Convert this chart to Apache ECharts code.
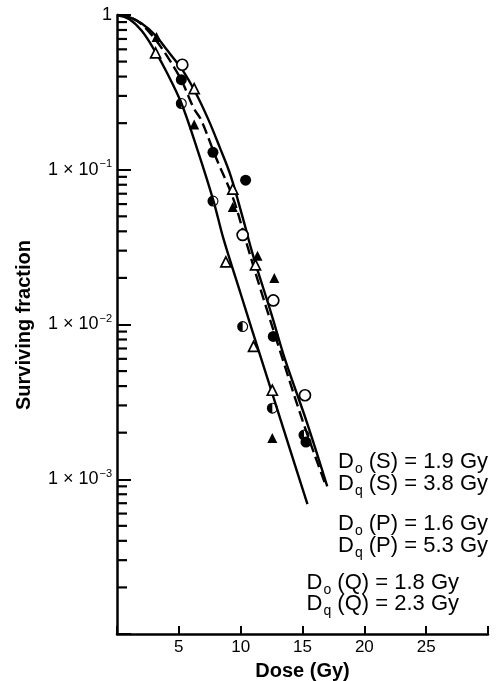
<!DOCTYPE html>
<html>
<head>
<meta charset="utf-8">
<script src="https://cdn.jsdelivr.net/npm/echarts@6/dist/echarts.min.js"></script>
<style>
  html, body { margin: 0; padding: 0; background: #fff; }
  #main { width: 501px; height: 681px; }
</style>
</head>
<body>
<div id="main"></div>
<script>
// fitted curves, [dose Gy, surviving fraction]
var curveS = [[0, 1], [1, 0.97], [2, 0.88], [3.1, 0.74], [4, 0.6], [5.3, 0.44], [6.4, 0.31], [7.4, 0.21],
  [8.3, 0.14], [9.2, 0.091], [10.2, 0.048], [11, 0.028], [12.5, 0.0116], [13.6, 0.0059], [15.3, 0.0024], [17, 0.0009]];
var curveP = [[0, 1], [1, 0.97], [2, 0.87], [3, 0.71], [4, 0.55], [5.2, 0.38], [6.2, 0.25], [6.8, 0.21],
  [8, 0.12], [9.4, 0.065], [10.5, 0.033], [11.5, 0.018], [13, 0.0075], [15, 0.0024], [16.8, 0.00095]];
var curveQ = [[0, 1], [1, 0.94], [2, 0.79], [3.1, 0.58], [4, 0.43], [5.2, 0.27], [6.5, 0.135], [7.8, 0.063],
  [8.6, 0.036], [10, 0.0158], [11, 0.0088], [12.5, 0.0037], [14, 0.00155], [15.4, 0.00069]];

// measured points
var openCircle = [[5.28, 0.477], [10.16, 0.0379], [12.64, 0.0143], [15.2, 0.00349]];
var filledCircle = [[5.2, 0.382], [7.76, 0.1296], [10.4, 0.0856], [12.64, 0.00837], [15.28, 0.00174]];
var halfCircle = [[5.2, 0.268], [7.76, 0.0627], [10.16, 0.0097], [12.56, 0.00288], [15.12, 0.00193]];
var openTriangle = [[3.12, 0.57], [6.24, 0.334], [9.36, 0.075], [8.8, 0.0254], [11.2, 0.0243], [11.04, 0.00722], [12.56, 0.00376]];
var filledTriangle = [[3.2, 0.722], [6.24, 0.196], [9.36, 0.0574], [11.36, 0.0278], [12.72, 0.02], [12.56, 0.00185]];

// axis ticks
var xTickLabels = ['5', '10', '15', '20', '25'];
var yMajorExp = [0, 1, 2, 3];
var yMinorTicks = [];
[1e-4, 1e-3, 1e-2, 1e-1].forEach(function (d) {
  [2, 3, 4, 5, 6, 7, 8, 9].forEach(function (m) { yMinorTicks.push(+(m * d).toPrecision(3)); });
});

var halfPath = 'path://M10,0A10,10 0 1,1 10,20A10,10 0 1,1 10,0Z' +
  'M10,2A8,8 0 1,0 10,18A8,8 0 1,0 10,2Z' +
  'M10,20A10,10 0 0,1 10,0Z';

var FONT = '"Liberation Sans", Arial, Helvetica, sans-serif';

var myChart = echarts.init(document.getElementById('main'));

function lineSeries(data, dashed) {
  return {
    type: 'line', data: data, smooth: 0.35, showSymbol: false, z: 2,
    lineStyle: { color: '#000', width: 2.4, type: dashed ? [11, 5] : 'solid' }
  };
}
function pointSeries(data, symbol, fill, size) {
  return {
    type: 'scatter', data: data, symbol: symbol, symbolSize: size, z: 5,
    itemStyle: { color: fill, borderColor: '#000', borderWidth: fill === '#fff' ? 1.7 : 0, opacity: 1 }
  };
}
function annot(text, x, y) {
  return {
    type: 'text', x: x, y: y,
    style: {
      text: text, align: 'right', verticalAlign: 'middle', fill: '#000',
      rich: {
        b: { fontFamily: FONT, fontSize: 22, lineHeight: 22, verticalAlign: 'top', fill: '#000' },
        s: { fontFamily: FONT, fontSize: 14, lineHeight: 14, padding: [11, 0, 0, 1], verticalAlign: 'top', fill: '#000' }
      }
    }
  };
}

myChart.setOption({
  backgroundColor: '#fff',
  animation: false,
  grid: { left: 117, top: 15, width: 371, height: 619, containLabel: false, outerBoundsMode: 'none' },
  xAxis: {
    type: 'value', min: 0, max: 30, interval: 5,
    name: 'Dose (Gy)', nameLocation: 'middle', nameGap: 27,
    nameTextStyle: { fontFamily: FONT, fontSize: 20, fontWeight: 'bold', color: '#000' },
    axisLine: { lineStyle: { color: '#000', width: 2.5 } },
    axisTick: { inside: true, length: 8, lineStyle: { color: '#000', width: 2 } },
    axisLabel: {
      margin: 5, fontFamily: FONT, fontSize: 17, color: '#000',
      formatter: function (v) { var i = v / 5 - 1; return xTickLabels[i] || ''; }
    },
    splitLine: { show: false }
  },
  yAxis: {
    type: 'log', logBase: 10, min: 1e-4, max: 1,
    axisLine: { show: true, lineStyle: { color: '#000', width: 2.5 } },
    axisTick: { inside: true, length: 14, lineStyle: { color: '#000', width: 2 } },
    axisLabel: {
      margin: 5, color: '#000',
      formatter: function (v) {
        var k = Math.round(-Math.log10(v));
        if (yMajorExp.indexOf(k) < 0) return '';
        if (k === 0) return '{b|1}';
        return '{b|1 × 10}{sup|\u2212' + k + '}';
      },
      rich: {
        b: { fontFamily: FONT, fontSize: 18, lineHeight: 18, verticalAlign: 'bottom', color: '#000' },
        sup: { fontFamily: FONT, fontSize: 11, lineHeight: 11, padding: [0, 0, 9, 1], verticalAlign: 'bottom', color: '#000' }
      }
    },
    splitLine: { show: false }
  },
  graphic: [
    {
      type: 'text', x: 24, y: 325, rotation: Math.PI / 2,
      style: {
        text: 'Surviving fraction', align: 'center', verticalAlign: 'middle',
        font: 'bold 20px ' + FONT, fill: '#000'
      }
    },
    annot('{b|D}{s|o}{b| (S) = 1.9 Gy}', 488, 462),
    annot('{b|D}{s|q}{b| (S) = 3.8 Gy}', 488, 484),
    annot('{b|D}{s|o}{b| (P) = 1.6 Gy}', 488, 524),
    annot('{b|D}{s|q}{b| (P) = 5.3 Gy}', 488, 546),
    annot('{b|D}{s|o}{b| (Q) = 1.8 Gy}', 459, 583),
    annot('{b|D}{s|q}{b| (Q) = 2.3 Gy}', 459, 604)
  ],
  series: [
    {
      type: 'custom', z: 3, silent: true, clip: false,
      data: yMinorTicks.map(function (v) { return [0, v]; }),
      renderItem: function (params, api) {
        var p = api.coord([api.value(0), api.value(1)]);
        return {
          type: 'line',
          shape: { x1: p[0], y1: p[1], x2: p[0] + 10, y2: p[1] },
          style: { stroke: '#000', lineWidth: 2.2 }
        };
      }
    },
    lineSeries(curveS, false),
    lineSeries(curveP, true),
    lineSeries(curveQ, false),
    pointSeries(openCircle, 'circle', '#fff', 11),
    pointSeries(filledCircle, 'circle', '#000', 11),
    pointSeries(halfCircle, halfPath, '#000', 11),
    pointSeries(openTriangle, 'triangle', '#fff', 10),
    pointSeries(filledTriangle, 'triangle', '#000', 10)
  ]
});
</script>
</body>
</html>
